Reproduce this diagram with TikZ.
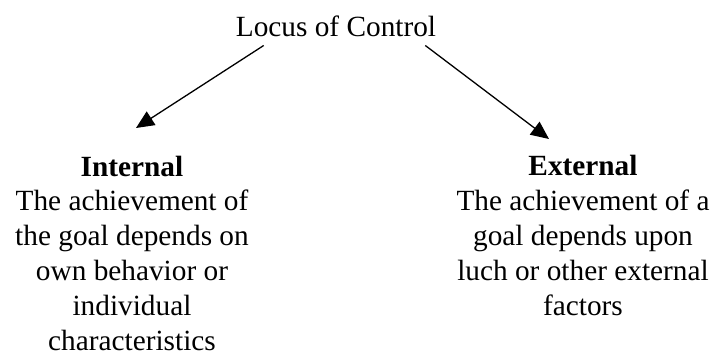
\documentclass[tikz,border=0pt]{standalone}
\usepackage{fontspec}
\setmainfont{Liberation Serif}
\usetikzlibrary{arrows.meta,calc}

\begin{document}
\begin{tikzpicture}[x=1pt, y=-1pt,
		every node/.style={inner sep=0pt, font=\fontsize{29.3}{34.8}\selectfont},
		blurb/.style={align=center, anchor=base},
		pointer/.style={line width=1.3pt, -{Triangle[length=18pt,width=16pt]}}]
			%%%%% START %%%%%
			
			\useasboundingbox (0, 0) rectangle (712, 356);
			
			\node[anchor=base] (locus) at (336, 36) {Locus of Control};
			
			% base of a multi-line node is its last line
			\node[blurb] (internal) at (132, 350) {\textbf{Internal}\\The achievement of\\the goal depends on\\own behavior or\\individual\\characteristics};
			\node[blurb] (external) at (583, 315) {\textbf{External}\\The achievement of a\\goal depends upon\\luch or other external\\factors};
			
			\coordinate (lfrom) at ($(locus.south west)+(28, 9)$);
			\coordinate (rfrom) at ($(locus.south east)+(-11, 9)$);
			\coordinate (lto) at (136, 128);
			\coordinate (rto) at (549, 139);
			
			\draw[pointer] (lfrom) -- (lto);
			\draw[pointer] (rfrom) -- (rto);
			
			%%%%% END %%%%%
\end{tikzpicture}
\end{document}
